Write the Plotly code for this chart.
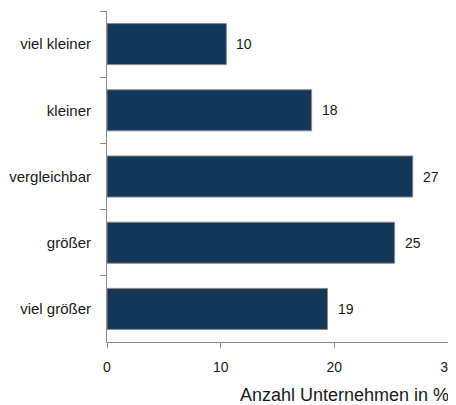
import plotly.graph_objects as go

# categories top to bottom
categories = ["viel kleiner", "kleiner", "vergleichbar", "größer", "viel größer"]
# bar lengths (Anzahl Unternehmen in %)
values = [10.5, 18.0, 26.9, 25.3, 19.4]
# printed labels next to the bars
value_labels = ["10", "18", "27", "25", "19"]
x_ticks = [0, 10, 20, 30]

FONT = "Liberation Sans, Arial, sans-serif"
AXIS_GREY = "#8c8c8c"

fig = go.Figure()
fig.add_trace(go.Bar(
    x=values,
    y=categories,
    orientation="h",
    width=0.62,
    marker=dict(color="#143758", line=dict(color="#8a8a8a", width=1)),
    hoverinfo="skip",
))

# value labels just past the bar ends
for cat, val, lab in zip(categories, values, value_labels):
    fig.add_annotation(x=val, y=cat, text=lab, showarrow=False,
                       xanchor="left", xshift=8,
                       font=dict(family=FONT, size=14, color="#1a1a1a"))

# axis title, placed bottom right like in the original
fig.add_annotation(x=0.385, y=-0.16, xref="paper", yref="paper",
                   text="Anzahl Unternehmen in %", showarrow=False,
                   xanchor="left", yanchor="middle",
                   font=dict(family=FONT, size=18, color="#1a1a1a"))

# page body adds 8px offset, margins account for it
fig.update_layout(
    width=456, height=405,
    margin=dict(l=99, r=16, t=3, b=71, autoexpand=False),
    paper_bgcolor="white", plot_bgcolor="white",
    showlegend=False,
    font=dict(family=FONT, color="#1a1a1a"),
)
fig.update_xaxes(
    range=[0, 30], tickvals=x_ticks, showgrid=False, zeroline=False,
    showline=True, linecolor=AXIS_GREY, linewidth=1, automargin=False,
    ticks="outside", ticklen=5, tickcolor=AXIS_GREY, ticklabelstandoff=7,
    tickfont=dict(family=FONT, size=14, color="#1a1a1a"),
)
fig.update_yaxes(
    categoryorder="array", categoryarray=categories, autorange="reversed",
    showgrid=False, zeroline=False, automargin=False,
    showline=True, linecolor=AXIS_GREY, linewidth=1,
    ticks="outside", ticklen=6, tickcolor=AXIS_GREY, tickson="boundaries",
    ticklabelstandoff=12,
    tickfont=dict(family=FONT, size=15, color="#1a1a1a"),
)

fig.write_html("out.html")
